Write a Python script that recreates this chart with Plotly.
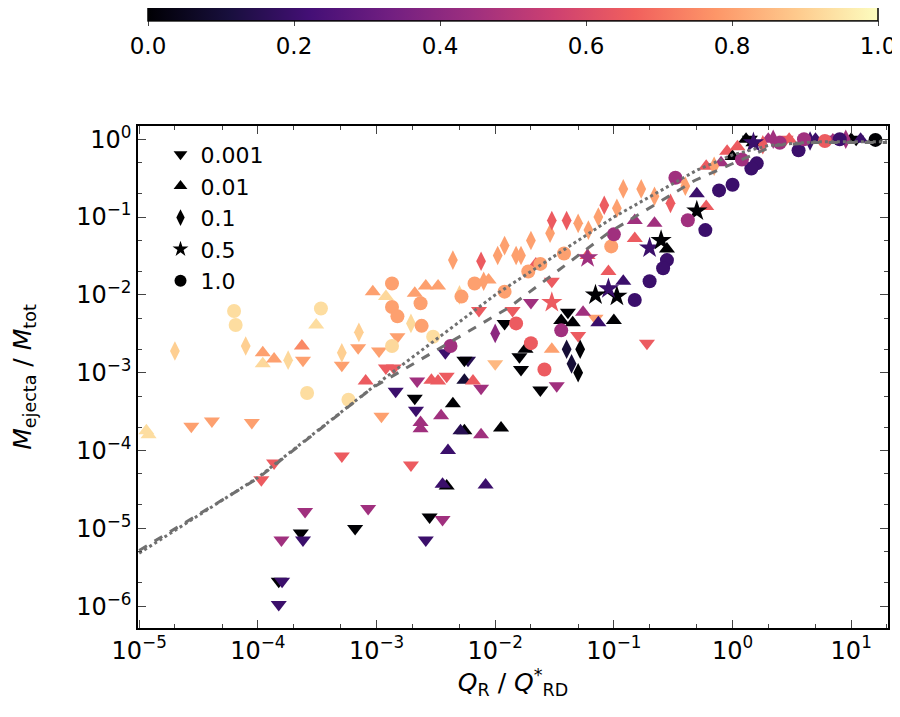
import plotly.graph_objects as go

# (Q_R/Q*_RD, M_ejecta/M_tot, b) per mass-ratio marker group
tri_down = [(2.75e-5,2.05e-4,.8),(4.1e-5,2.4e-4,.8),(8.9e-5,2.3e-4,.8),(1.07e-4,4.2e-5,.65),(1.37e-4,6.9e-5,.65),(5.1e-4,8.5e-5,.65),(1.95e-3,6.5e-5,.65),(1.58e-4,7.1e-6,.45),(2.5e-4,1.65e-5,.45),(2.3e-4,8.7e-6,0),(2.4e-4,7.1e-6,.2),(1.5e-4,2.1e-6,0),(1.6e-4,2.1e-6,.2),(1.5e-4,1.05e-6,.2),(8.5e-4,1.8e-5,.45),(6.6e-4,1e-5,0),(2.8e-3,1.4e-5,0),(3.6e-3,1.3e-5,.45),(2.6e-3,7.1e-6,.2),(2.15e-3,3.3e-4,.2),(2.1e-3,4.7e-4,0),(1.45e-3,5.8e-4,.2),(2.2e-3,7.8e-4,.45),(3.9e-3,9e-4,.65),(7.6e-3,6.3e-4,.45),(1.1e-3,2.75e-4,.8),(2.4e-4,1.45e-3,.8),(5.1e-4,1.25e-3,.8),(7e-4,2.1e-3,.8),(1.05e-3,1.9e-3,.8),(1.5e-3,2.9e-3,.8),(1.2e-3,1.15e-3,.65),(1.4e-3,1.15e-3,.65),(3.8e-3,1.8e-3,.2),(5.9e-3,1.45e-3,.15),(5.5e-3,1.45e-3,0),(1e-2,1.3e-3,.85),(1.2e-2,4.3e-3,0),(1.6e-2,1.6e-3,0),(7.3e-3,6.3e-3,.65),(1.4e-2,6.3e-3,.65),(0.041,6e-3,0),(0.024,6e-4,0),(0.0165,1.1e-3,0),(0.033,6.8e-4,.45),(0.19,2.4e-3,.65),(0.05,3e-3,.65),(0.07,5e-3,.8),(0.03,1.5e-2,.65),(0.02,8e-3,.45),(1.4,1.0,0),(2.8,1,.65),(6.5,1,.2),(11,1,0)]
tri_up = [(1.2e-5,1.6e-4,.93),(1.15e-5,1.8e-4,.93),(1.1e-4,1.8e-3,.8),(1.1e-4,1.3e-3,.92),(1.37e-4,1.5e-3,.8),(2.35e-4,2.2e-3,.75),(3.1e-4,4.1e-3,.93),(9.3e-4,1.1e-2,.8),(1.2e-3,9.5e-3,.92),(2.1e-3,1.05e-2,.8),(2.6e-3,1.3e-2,.8),(3.3e-3,1.3e-2,.8),(8.8e-3,1.55e-2,.8),(3.9e-3,3.5e-5,0),(3.6e-3,3.7e-5,.2),(8.3e-3,3.6e-5,.2),(4e-3,1e-4,.2),(1.12e-2,1.95e-4,0),(7.6e-3,1.6e-4,.45),(5.5e-3,1.8e-4,0),(5.1e-3,1.8e-4,.15),(2.35e-3,1.9e-4,.45),(2.35e-3,2.3e-4,.45),(3.5e-3,2.8e-4,.45),(4.4e-3,4e-4,0),(8.1e-4,7.8e-4,.65),(2.9e-3,8e-4,.65),(3.3e-3,7.8e-4,.65),(5.5e-3,8e-4,.1),(6.5e-3,7.8e-4,.65),(0.15,0.053,.65),(0.022,0.025,.65),(0.06,0.032,.65),(0.28,0.039,0),(0.1,4.7e-3,0),(0.036,4.7e-3,0),(0.045,4.4e-3,0),(0.018,2e-3,0),(0.074,4.4e-3,.2),(0.03,2e-3,.8),(0.055,6e-3,.45),(0.6,0.137,.65),(0.9,0.7,.65),(0.6,0.45,.65),(0.35,0.3,.8),(0.15,0.09,.45),(0.5,0.2,.2),(0.22,0.083,.45),(1.0,0.6,0),(0.09,0.02,.65),(0.12,0.015,.2),(1.3,1.0,0),(1.5,0.9,0),(2,1.0,.45),(3,1.0,.65),(5,1.0,.2),(7,0.98,.45),(10,1.0,0),(12,1,.2),(1.1,0.8,.65),(0.8,0.5,.45)]
diamonds = [(2.0e-5,1.9e-3,.9),(7.9e-5,2.2e-3,.9),(1.8e-4,1.45e-3,.92),(5.1e-4,1.8e-3,.9),(7.1e-4,3.3e-3,.9),(1.95e-3,4.3e-3,.92),(4.4e-3,2.8e-2,.8),(7.6e-3,2.7e-2,.65),(1.2e-2,4.3e-2,.8),(1.05e-2,3.2e-2,.8),(1.5e-2,3.2e-2,.8),(1e-2,3.2e-3,.4),(0.12,0.23,.8),(0.17,0.23,.8),(0.029,0.062,.8),(0.05,0.083,.8),(0.0165,0.032,.8),(0.074,0.1,.8),(0.106,0.13,.8),(0.22,0.185,.8),(0.061,0.068,.8),(0.03,0.09,.65),(0.04,0.09,.65),(0.083,0.142,.65),(0.052,2e-3,0),(0.05,1e-3,0),(0.044,1.3e-3,.1),(0.04,2e-3,.1),(0.3,0.15,.65),(0.4,0.25,.8),(0.02,0.05,.8),(0.008,0.015,.8),(0.005,0.01,.9),(2.2,1.0,.45),(4.5,0.95,.2),(9,1.0,.45),(1.8,0.85,.65),(0.7,0.45,.8)]
stars = [(0.106,9.6e-3,0),(0.09,0.012,.2),(0.2,0.04,.2),(0.5,0.12,0),(0.03,8e-3,.65),(0.06,0.03,.45),(0.25,0.05,0),(1.5,0.9,.2),(0.07,0.01,0)]
circles = [(6.3e-5,6.2e-3,.93),(6.5e-5,4.1e-3,.93),(3.4e-4,6.7e-3,.93),(1.35e-3,2.2e-3,.92),(1.35e-3,1.4e-2,.8),(1.35e-3,7e-3,.8),(1.5e-3,5.3e-3,.8),(2.35e-3,7.8e-3,.8),(3e-3,2.9e-3,.93),(2.4e-3,4e-3,.8),(4.2e-3,2.2e-3,.45),(5.2e-3,9.5e-3,.8),(6.7e-3,1.4e-2,.8),(1.5e-2,4.3e-3,.65),(2.6e-4,5.5e-4,.93),(5.8e-4,4.5e-4,.93),(0.095,0.042,.8),(0.038,0.034,.8),(0.024,0.025,.8),(0.019,0.02,.8),(0.33,0.32,.45),(0.42,0.091,.45),(0.59,0.068,.2),(0.28,0.028,.2),(0.26,0.022,.2),(0.2,0.015,.2),(0.15,8.6e-3,.2),(1.0,0.26,.2),(0.77,0.22,.2),(1.6,0.49,.2),(1.44,0.42,.2),(3.6,0.72,.2),(0.036,3.5e-3,.45),(0.026,1.1e-3,.65),(0.02,2.4e-3,.65),(16,0.98,0),(8,1,.2),(4,1,.45),(2.5,0.9,.45),(1.2,0.55,.45),(6,0.95,.65),(0.1,0.06,.45),(0.012,0.011,.8)]

groups = [("0.001", "triangle-down", tri_down), ("0.01", "triangle-up", tri_up),
          ("0.1", "diamond-tall", diamonds), ("0.5", "star", stars), ("1.0", "circle", circles)]

fit_dash_x = [1e-5, 1e-4, 9.1e-4, 0.0129, 0.089, 0.48, 1.17, 2.24, 5, 20]
fit_dash_y = [5.2e-6, 4.4e-5, 6.3e-4, 6.8e-3, 0.062, 0.295, 0.54, 0.83, 0.91, 0.91]
fit_dot_x = [1e-5, 1e-4, 1e-3, 1e-2, 0.1, 0.5, 1, 2, 5, 20]
fit_dot_y = [4.8e-6, 4.5e-5, 7.1e-4, 0.01, 0.1, 0.4, 0.63, 0.83, 0.93, 0.93]

fig = go.Figure()
for i, (name, sym, pts) in enumerate(groups):
    xs = [p[0] for p in pts]; ys = [p[1] for p in pts]; bs = [p[2] for p in pts]
    mk = dict(symbol=sym, size=14 if sym != "star" else 16, color=bs, colorscale="Magma",
              cmin=0, cmax=1, line=dict(width=0))
    if i == 0:
        mk.update(showscale=True, colorbar=dict(
            orientation="h", x=0.5, xanchor="center", y=1.112, yanchor="bottom",
            len=1.0, lenmode="fraction", thickness=25, outlinewidth=1.5, outlinecolor="black",
            tickvals=[0, 0.2, 0.4, 0.6, 0.8, 1.0], ticktext=["0.0", "0.2", "0.4", "0.6", "0.8", "1.0"],
            ticks="outside", ticklen=5, tickfont=dict(size=23, color="black"),
            title=dict(text="<i>b</i>", side="top", font=dict(size=24, color="black"))))
    fig.add_trace(go.Scatter(x=xs, y=ys, mode="markers", marker=mk, showlegend=False, hoverinfo="skip"))
for name, sym, pts in groups:
    fig.add_trace(go.Scatter(x=[None], y=[None], mode="markers", name=name,
                             marker=dict(symbol=sym, size=14, color="black")))

fig.add_trace(go.Scatter(x=fit_dash_x, y=fit_dash_y, mode="lines", showlegend=False,
                         line=dict(color="#707070", width=3, dash="dash")))
fig.add_trace(go.Scatter(x=fit_dot_x, y=fit_dot_y, mode="lines", showlegend=False,
                         line=dict(color="#707070", width=3, dash="dot")))

ticks_x = [1e-5, 1e-4, 1e-3, 1e-2, 1e-1, 1, 10]
ticks_y = [1e-6, 1e-5, 1e-4, 1e-3, 1e-2, 1e-1, 1]
fig.update_layout(
    width=900, height=717, margin=dict(l=130, r=20, t=118, b=97, autoexpand=False),
    paper_bgcolor="white", plot_bgcolor="white",
    font=dict(family="DejaVu Sans", color="black"),
    legend=dict(x=0.03, y=0.985, xanchor="left", yanchor="top", bgcolor="rgba(0,0,0,0)",
                font=dict(size=22), itemsizing="constant", tracegroupgap=0),
    xaxis=dict(type="log", range=[-5.01, 1.31], showgrid=False, zeroline=False,
               showline=True, linecolor="black", linewidth=1.5, mirror="allticks",
               ticks="inside", ticklen=8, tickwidth=1.2,
               tickvals=ticks_x, ticktext=["10<sup>−5</sup>", "10<sup>−4</sup>", "10<sup>−3</sup>", "10<sup>−2</sup>", "10<sup>−1</sup>", "10<sup>0</sup>", "10<sup>1</sup>"],
               tickfont=dict(size=24),
               minor=dict(ticks="inside", ticklen=4, showgrid=False),
               title=dict(text="<i>Q</i><sub>R</sub> / <i>Q</i><sup>*</sup><sub>RD</sub>", font=dict(size=25), standoff=12)),
    yaxis=dict(type="log", range=[-6.28, 0.17], showgrid=False, zeroline=False,
               showline=True, linecolor="black", linewidth=1.5, mirror="allticks",
               ticks="inside", ticklen=8, tickwidth=1.2,
               tickvals=ticks_y, ticktext=["10<sup>−6</sup>", "10<sup>−5</sup>", "10<sup>−4</sup>", "10<sup>−3</sup>", "10<sup>−2</sup>", "10<sup>−1</sup>", "10<sup>0</sup>"],
               tickfont=dict(size=24),
               minor=dict(ticks="inside", ticklen=4, showgrid=False),
               title=dict(text="<i>M</i><sub>ejecta</sub> / <i>M</i><sub>tot</sub>", font=dict(size=25), standoff=8)),
)
fig.write_html("out.html")
